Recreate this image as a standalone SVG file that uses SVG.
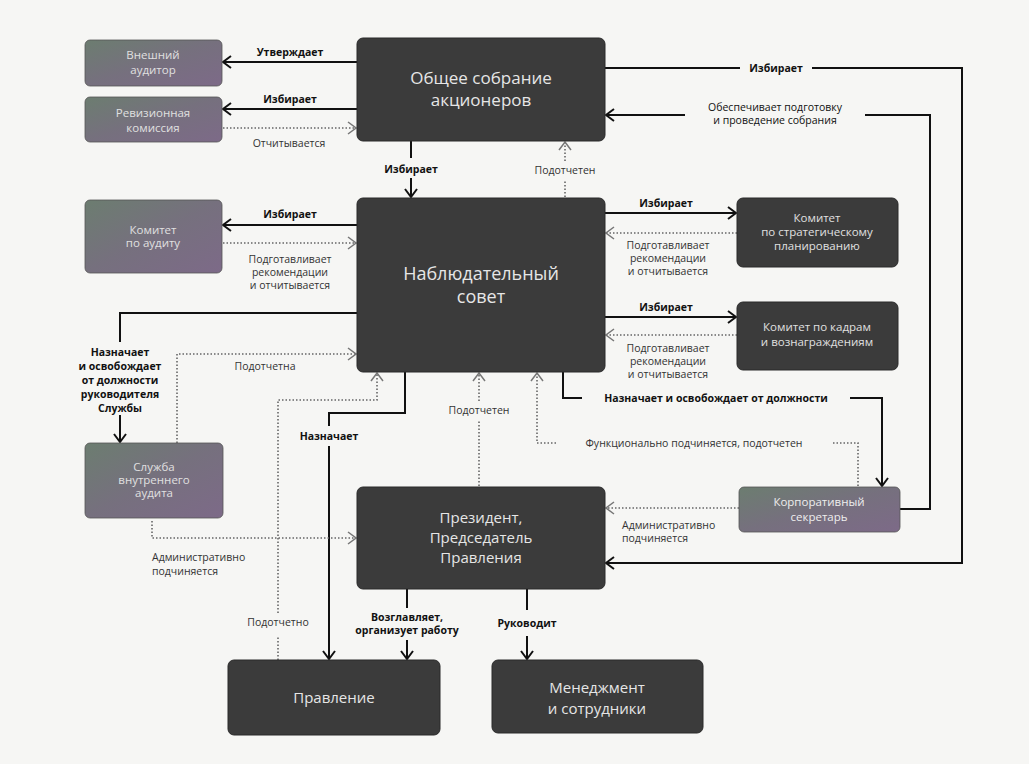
<svg xmlns="http://www.w3.org/2000/svg" width="1029" height="764" viewBox="0 0 1029 764">
<style>
.dark{fill:#3b3b3b;stroke:#2a2a2a;stroke-width:1}
.mix{fill:url(#g);stroke:#555;stroke-width:0.8}
.big{font-family:"Open Sans","Liberation Sans",sans-serif;fill:#e6e6e6;text-anchor:middle}
.sm{font-family:"Open Sans","Liberation Sans",sans-serif;font-size:11.5px;fill:#e0e0e0;text-anchor:middle}
.b{font-family:"Open Sans","Liberation Sans",sans-serif;font-size:10.5px;font-weight:bold;fill:#111;text-anchor:middle}
.r{font-family:"Open Sans","Liberation Sans",sans-serif;font-size:10.5px;fill:#333;text-anchor:middle}
.s{fill:none;stroke:#111;stroke-width:2}
.d{fill:none;stroke:#666;stroke-width:1.6;stroke-dasharray:1.5 2}
</style>
<defs>
<linearGradient id="g" x1="0" y1="0" x2="1" y2="1">
<stop offset="0" stop-color="#6c7d70"/>
<stop offset="0.5" stop-color="#76707e"/>
<stop offset="1" stop-color="#7d6a88"/>
</linearGradient>
<marker id="as" viewBox="0 0 12 14" refX="11" refY="7" markerWidth="12" markerHeight="14" orient="auto" markerUnits="userSpaceOnUse">
<path d="M3,1 L11,7 L3,13" fill="none" stroke="#111" stroke-width="2"/>
</marker>
<marker id="ad" viewBox="0 0 12 14" refX="11" refY="7" markerWidth="12" markerHeight="14" orient="auto" markerUnits="userSpaceOnUse">
<path d="M3,1 L11,7 L3,13" fill="none" stroke="#777" stroke-width="1.5"/>
</marker>
</defs>
<rect width="1029" height="764" fill="#f6f6f4"/>

<g id="connectors">
<path class="s" d="M357,62 H223" marker-end="url(#as)"/>
<text class="b" x="290" y="56">Утверждает</text>
<path class="s" d="M357,109 H223" marker-end="url(#as)"/>
<text class="b" x="290" y="103">Избирает</text>
<path class="d" d="M223,128 H356" marker-end="url(#ad)"/>
<text class="r" x="289" y="147">Отчитывается</text>

<path class="s" d="M411,141 V158"/>
<path class="s" d="M411,178 V197" marker-end="url(#as)"/>
<text class="b" x="411" y="173">Избирает</text>
<path class="d" d="M565,197 V180"/>
<path class="d" d="M565,161 V142" marker-end="url(#ad)"/>
<text class="r" x="565" y="174">Подотчетен</text>

<path class="s" d="M605,68 H740"/>
<path class="s" d="M812,68 H962 V563 H606" marker-end="url(#as)"/>
<text class="b" x="776" y="72">Избирает</text>
<path class="s" d="M900,509 H930 V115 H865"/>
<path class="s" d="M685,115 H606" marker-end="url(#as)"/>
<text class="b" x="775" y="111" style="font-weight:normal;fill:#111">Обеспечивает подготовку</text>
<text class="b" x="775" y="124" style="font-weight:normal;fill:#111">и проведение собрания</text>

<path class="s" d="M605,213 H736" marker-end="url(#as)"/>
<text class="b" x="666" y="207">Избирает</text>
<path class="d" d="M737,233 H606" marker-end="url(#ad)"/>
<text class="r" x="668" y="249">Подготавливает</text>
<text class="r" x="668" y="262">рекомендации</text>
<text class="r" x="668" y="275">и отчитывается</text>

<path class="s" d="M605,317 H736" marker-end="url(#as)"/>
<text class="b" x="666" y="311">Избирает</text>
<path class="d" d="M737,335 H606" marker-end="url(#ad)"/>
<text class="r" x="668" y="352">Подготавливает</text>
<text class="r" x="668" y="365">рекомендации</text>
<text class="r" x="668" y="378">и отчитывается</text>

<path class="s" d="M357,225 H223" marker-end="url(#as)"/>
<text class="b" x="290" y="218">Избирает</text>
<path class="d" d="M223,243 H356" marker-end="url(#ad)"/>
<text class="r" x="290" y="263">Подготавливает</text>
<text class="r" x="290" y="276">рекомендации</text>
<text class="r" x="290" y="289">и отчитывается</text>

<path class="s" d="M357,313 H120 V342"/>
<path class="s" d="M120,415 V442" marker-end="url(#as)"/>
<text class="b" x="120" y="356">Назначает</text>
<text class="b" x="120" y="370">и освобождает</text>
<text class="b" x="120" y="384">от должности</text>
<text class="b" x="120" y="398">руководителя</text>
<text class="b" x="120" y="412">Службы</text>

<path class="d" d="M177,443 V354 H356" marker-end="url(#ad)"/>
<text class="r" x="265" y="370">Подотчетна</text>

<path class="s" d="M405,372 V413 H329 V426"/>
<path class="s" d="M329,446 V659" marker-end="url(#as)"/>
<text class="b" x="329" y="440">Назначает</text>

<path class="d" d="M278,660 V637"/>
<path class="d" d="M278,613 V400 H377 V373" marker-end="url(#ad)"/>
<text class="r" x="278" y="626">Подотчетно</text>

<path class="d" d="M152,521 V538 H356" marker-end="url(#ad)"/>
<text class="r" x="152" y="561" style="text-anchor:start">Административно</text>
<text class="r" x="152" y="575" style="text-anchor:start">подчиняется</text>

<path class="d" d="M479,486 V420"/>
<path class="d" d="M479,401 V373" marker-end="url(#ad)"/>
<text class="r" x="479" y="414">Подотчетен</text>

<path class="d" d="M858,486 V443 H832"/>
<path class="d" d="M556,443 H537 V373" marker-end="url(#ad)"/>
<text class="r" x="694" y="447">Функционально подчиняется, подотчетен</text>

<path class="s" d="M563,372 V398 H582"/>
<path class="s" d="M850,398 H882 V486" marker-end="url(#as)"/>
<text class="b" x="716" y="402">Назначает и освобождает от должности</text>

<path class="d" d="M739,508 H606" marker-end="url(#ad)"/>
<text class="r" x="622" y="529" style="text-anchor:start">Административно</text>
<text class="r" x="622" y="542" style="text-anchor:start">подчиняется</text>

<path class="s" d="M407,589 V608"/>
<path class="s" d="M407,640 V659" marker-end="url(#as)"/>
<text class="b" x="407" y="621">Возглавляет,</text>
<text class="b" x="407" y="634">организует работу</text>

<path class="s" d="M527,589 V610"/>
<path class="s" d="M527,636 V659" marker-end="url(#as)"/>
<text class="b" x="527" y="627">Руководит</text>
</g>

<g id="auditor-ext">
<rect class="mix" x="85" y="40" width="137" height="46" rx="5"/>
<text class="sm" x="153" y="59">Внешний</text>
<text class="sm" x="153" y="74">аудитор</text>
</g>
<g id="revision">
<rect class="mix" x="85" y="97" width="137" height="45" rx="5"/>
<text class="sm" x="153" y="117">Ревизионная</text>
<text class="sm" x="153" y="132">комиссия</text>
</g>
<g id="gsm">
<rect class="dark" x="357" y="38" width="248" height="103" rx="6"/>
<text class="big" x="481" y="84" font-size="17">Общее собрание</text>
<text class="big" x="481" y="106" font-size="17">акционеров</text>
</g>
<g id="board">
<rect class="dark" x="357" y="198" width="248" height="174" rx="6"/>
<text class="big" x="481" y="280" font-size="18">Наблюдательный</text>
<text class="big" x="481" y="303" font-size="18">совет</text>
</g>
<g id="audit-committee">
<rect class="mix" x="85" y="200" width="137" height="73" rx="5"/>
<text class="sm" x="153" y="234">Комитет</text>
<text class="sm" x="153" y="247">по аудиту</text>
</g>
<g id="strategy-committee">
<rect class="dark" x="737" y="198" width="161" height="69" rx="6"/>
<text class="sm" x="817" y="222">Комитет</text>
<text class="sm" x="817" y="236">по стратегическому</text>
<text class="sm" x="817" y="250">планированию</text>
</g>
<g id="hr-committee">
<rect class="dark" x="737" y="302" width="161" height="68" rx="6"/>
<text class="sm" x="817" y="331">Комитет по кадрам</text>
<text class="sm" x="817" y="346">и вознаграждениям</text>
</g>
<g id="internal-audit">
<rect class="mix" x="85" y="443" width="138" height="75" rx="5"/>
<text class="sm" x="154" y="471">Служба</text>
<text class="sm" x="154" y="484">внутреннего</text>
<text class="sm" x="154" y="497">аудита</text>
</g>
<g id="president">
<rect class="dark" x="357" y="487" width="248" height="102" rx="6"/>
<text class="big" x="481" y="523" font-size="15">Президент,</text>
<text class="big" x="481" y="543" font-size="15">Председатель</text>
<text class="big" x="481" y="563" font-size="15">Правления</text>
</g>
<g id="secretary">
<rect class="mix" x="739" y="487" width="161" height="45" rx="5"/>
<text class="sm" x="819" y="506" style="fill:#eee">Корпоративный</text>
<text class="sm" x="819" y="521" style="fill:#eee">секретарь</text>
</g>
<g id="management-board">
<rect class="dark" x="228" y="660" width="212" height="75" rx="6"/>
<text class="big" x="334" y="703" font-size="15">Правление</text>
</g>
<g id="management">
<rect class="dark" x="492" y="660" width="211" height="73" rx="6"/>
<text class="big" x="597" y="693" font-size="15">Менеджмент</text>
<text class="big" x="597" y="714" font-size="15">и сотрудники</text>
</g>
</svg>
